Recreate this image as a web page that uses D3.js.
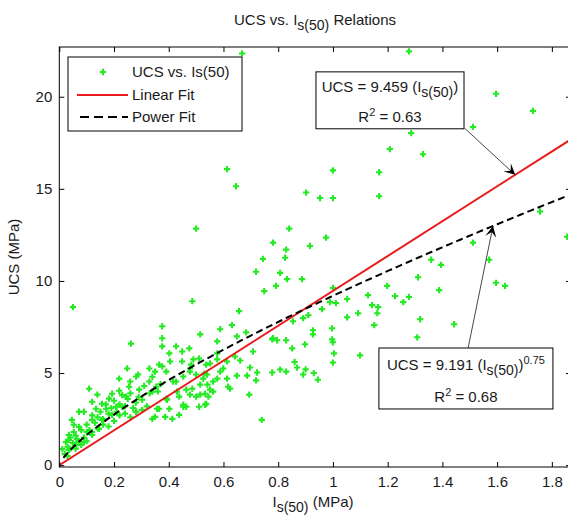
<!DOCTYPE html>
<html>
<head>
<meta charset="utf-8">
<script src="https://cdn.jsdelivr.net/npm/d3@7"></script>
<style>
body { margin: 0; background: #fff; }
text { font-family: Arial, "Liberation Sans", sans-serif; fill: #1a1a1a; }
</style>
</head>
<body>
<svg id="chart" width="568" height="516"></svg>
<script>
// measured points, Is(50) in MPa
var isValues = [
  0.668, 1.278, 1.596, 1.731, 1.512, 1.286, 1.208, 1.329, 1.0, 1.169,
  0.902, 0.953, 1.0, 1.169, 0.84, 0.975, 1.757, 1.856, 1.512, 1.359,
  1.395, 1.571, 1.311, 1.596, 1.629, 1.198, 1.388, 1.227, 1.278, 1.257,
  0.613, 0.646, 0.781, 0.916, 0.829, 0.744, 0.825, 0.719, 0.807, 0.832,
  0.887, 0.5, 0.05, 0.486, 0.657, 0.792, 0.749,
  0.376, 0.376, 0.376, 0.515, 0.588, 0.631, 0.683, 0.577, 0.661, 0.708,
  0.697, 0.686, 0.649, 0.723, 0.719, 0.694, 0.74, 0.778, 0.796, 0.829,
  0.851, 0.898, 0.778, 0.807, 0.829, 0.869, 0.891, 0.891, 0.854,
  1.0, 1.128, 1.052, 0.989, 1.011, 1.143, 1.165, 1.162, 0.96, 0.91,
  1.052, 1.092, 1.151, 1.319, 1.443, 0.927, 0.927, 0.997, 1.308, 0.997,
  1.0, 1.004, 1.0, 1.099, 0.945,
  0.262, 0.109, 0.046, 0.288, 0.259, 0.219, 0.182, 0.156, 0.134, 0.09,
  0.12, 0.072, 0.035, 0.024, 0.011, 0.035, 0.053, 0.064, 0.1, 0.156,
  0.193, 0.23, 0.193, 0.244, 0.292, 0.303, 0.329, 0.354, 0.303, 0.281,
  0.391, 0.365, 0.34, 0.391, 0.427, 0.438, 0.464, 0.482, 0.5, 0.464,
  0.533, 0.537, 0.281, 0.329, 0.255, 0.12, 0.072, 0.171, 0.208, 0.145,
  0.12, 0.09, 0.061, 0.035, 0.053, 0.139, 0.219, 0.248, 0.402, 0.427,
  0.475, 0.511, 0.537, 0.53, 0.541, 0.365, 0.34, 0.402, 0.438, 0.413,
  0.5, 0.511, 0.486,
  0.649, 0.781, 0.613, 0.624, 0.562, 0.515, 0.453, 0.477, 0.449, 0.526,
  0.551, 0.577, 0.613, 0.642, 0.588, 0.562,
  0.35, 0.376, 0.405, 0.449, 0.49, 0.478, 0.453, 0.416, 0.43, 0.394,
  0.357, 0.35, 0.387, 0.453, 0.478, 0.515, 0.54, 0.551, 0.545, 0.533,
  0.577, 0.599, 0.577, 0.617,
  0.02, 0.03, 0.04, 0.05, 0.06, 0.07, 0.08, 0.09, 0.1, 0.11,
  0.12, 0.13, 0.14, 0.15, 0.16, 0.17, 0.18, 0.19, 0.2, 0.21,
  0.22, 0.23, 0.24, 0.25, 0.26, 0.27, 0.28, 0.29, 0.31, 0.32,
  0.33, 0.34, 0.36, 0.37, 0.03, 0.04, 0.06, 0.08, 0.1, 0.12,
  0.14, 0.16, 0.18, 0.2, 0.22, 0.24, 0.26, 0.28,
  0.9, 0.93, 0.86
];
// matching UCS values in MPa
var ucsValues = [
  22.35, 22.46, 20.16, 19.23, 18.36, 18.03, 17.16, 16.88, 16.0, 15.9,
  14.8, 14.5, 14.5, 14.6, 12.84, 12.35, 13.77, 12.4, 12.08, 11.15,
  10.87, 11.15, 10.2, 9.9, 9.73, 9.73, 9.5, 9.18, 9.13, 8.85,
  16.07, 15.14, 12.08, 11.9, 11.7, 11.2, 11.26, 10.5, 10.44, 10.1,
  10.1, 12.84, 8.58, 8.9, 8.36, 9.73, 9.45,
  7.54, 6.89, 6.45, 7.1, 7.38, 7.6, 7.21, 6.72, 5.68, 6.17,
  5.3, 4.86, 4.86, 5.03, 4.6, 3.83, 2.46, 6.83, 6.78, 6.78,
  6.34, 6.56, 5.03, 5.19, 5.08, 5.3, 4.92, 7.98, 7.81,
  9.62, 9.23, 9.02, 8.85, 8.8, 8.69, 8.58, 8.25, 8.47, 8.14,
  8.03, 8.25, 7.6, 7.92, 7.65, 7.32, 7.1, 7.43, 6.94, 6.83,
  6.67, 6.07, 5.57, 5.96, 4.64,
  6.6, 4.15, 2.46, 4.92, 4.54, 4.04, 3.61, 3.33, 3.06, 2.9,
  2.46, 2.08, 1.64, 1.26, 0.87, 0.82, 1.8, 1.42, 1.8, 2.46,
  2.73, 3.17, 3.88, 3.72, 4.1, 3.55, 4.54, 4.26, 3.0, 2.9,
  3.61, 3.06, 2.51, 5.08, 4.54, 3.72, 4.1, 5.46, 4.92, 3.17,
  3.88, 3.33, 4.81, 5.25, 4.26, 3.44, 2.9, 3.06, 3.17, 1.97,
  1.64, 1.26, 1.09, 1.37, 2.19, 3.83, 4.7, 5.25, 6.07, 6.45,
  6.34, 5.79, 5.46, 4.97, 4.37, 5.46, 3.99, 3.06, 2.73, 2.51,
  3.72, 3.17, 4.15,
  6.99, 6.89, 4.7, 4.15, 3.99, 3.83, 3.28, 5.08, 5.63, 4.7,
  5.52, 6.07, 5.63, 5.9, 5.08, 4.54,
  5.08, 5.36, 5.63, 6.17, 5.74, 5.25, 4.81, 4.54, 3.99, 3.55,
  3.06, 2.62, 2.62, 3.17, 3.83, 4.37, 4.92, 4.1, 3.72, 3.28,
  4.7, 5.25, 5.74, 4.26,
  0.6, 1.0, 0.9, 1.2, 1.6, 1.3, 1.9, 1.5, 2.2, 1.9,
  2.7, 2.3, 2.6, 2.9, 2.2, 3.3, 2.8, 3.1, 3.5, 2.9,
  3.3, 3.8, 2.8, 3.6, 3.9, 3.1, 3.4, 3.7, 4.3, 3.2,
  3.9, 4.8, 4.0, 4.4, 0.5, 1.5, 0.9, 1.1, 1.3, 1.8,
  2.0, 2.5, 2.1, 2.4, 2.7, 3.2, 2.6, 2.9,
  5.2, 5.0, 5.6
];

var xTicks = [0, 0.2, 0.4, 0.6, 0.8, 1, 1.2, 1.4, 1.6, 1.8];
var yTicks = [0, 5, 10, 15, 20];
var linearCoef = [9.459];
var powerCoef = [9.191, 0.75];
var rSquared = ["0.63", "0.68"];
var legendLabels = ["UCS vs. Is(50)", "Linear Fit", "Power Fit"];

var green = "#24ea24";
var red = "#e81c1c";
var fontPx = 15;

var svg = d3.select('#chart');

var x = d3.scaleLinear().domain([0, 1.87]).range([59.3, 571]);
var y = d3.scaleLinear().domain([-0.1, 22.7]).range([467, 47]);

function linearFit(v) { return linearCoef[0] * v; }
function powerFit(v) { return powerCoef[0] * Math.pow(v, powerCoef[1]); }

svg.append('clipPath').attr('id', 'plotClip')
  .append('rect')
  .attr('x', x(0)).attr('y', y(22.7))
  .attr('width', x(1.87) - x(0)).attr('height', y(-0.1) - y(22.7));

var plot = svg.append('g').attr('clip-path', 'url(#plotClip)');

// scatter
var pts = isValues.map(function (d, i) { return [d, ucsValues[i]]; });
plot.selectAll('path.pt')
  .data(pts)
  .enter()
  .append('path')
  .attr('class', 'pt')
  .attr('d', d3.symbol().type(d3.symbolCross).size(22))
  .attr('transform', function (d) { return 'translate(' + x(d[0]) + ',' + y(d[1]) + ')'; })
  .attr('fill', green);

// fit lines
var line = d3.line()
  .x(function (d) { return x(d[0]); })
  .y(function (d) { return y(d[1]); });

plot.append('path')
  .datum([0, 1.87].map(function (v) { return [v, linearFit(v)]; }))
  .attr('d', line)
  .attr('fill', 'none')
  .attr('stroke', red)
  .attr('stroke-width', 2);

plot.append('path')
  .datum(d3.range(0.015, 1.875, 0.01).map(function (v) { return [v, powerFit(v)]; }))
  .attr('d', line)
  .attr('fill', 'none')
  .attr('stroke', '#000')
  .attr('stroke-width', 2)
  .attr('stroke-dasharray', '7,4');

// axes, ticks inward on all four sides
var fmt = d3.format('~g');
function styleAxis(g) {
  g.select('.domain').remove();
  g.selectAll('line').attr('stroke', '#000');
  g.selectAll('text').style('font-size', fontPx + 'px').attr('fill', '#1a1a1a');
}

svg.append('g')
  .attr('transform', 'translate(0,' + y(-0.1) + ')')
  .call(d3.axisBottom(x).tickValues(xTicks).tickFormat(fmt).tickSizeInner(-5).tickSizeOuter(0).tickPadding(9))
  .call(styleAxis);

svg.append('g')
  .attr('transform', 'translate(0,' + y(22.7) + ')')
  .call(d3.axisTop(x).tickValues(xTicks).tickFormat('').tickSizeInner(-5).tickSizeOuter(0))
  .call(styleAxis);

svg.append('g')
  .attr('transform', 'translate(' + x(0) + ',0)')
  .call(d3.axisLeft(y).tickValues(yTicks).tickFormat(fmt).tickSizeInner(-5).tickSizeOuter(0).tickPadding(7))
  .call(styleAxis);

svg.append('g')
  .attr('transform', 'translate(' + x(1.87) + ',0)')
  .call(d3.axisRight(y).tickValues(yTicks).tickFormat('').tickSizeInner(-5).tickSizeOuter(0))
  .call(styleAxis);

svg.append('rect')
  .attr('x', x(0)).attr('y', y(22.7))
  .attr('width', x(1.87) - x(0)).attr('height', y(-0.1) - y(22.7))
  .attr('fill', 'none')
  .attr('stroke', '#000')
  .attr('stroke-width', 1);

// text with sub / superscripts
function richText(parent, parts, px, py, anchor) {
  var t = parent.append('text')
    .attr('x', px).attr('y', py)
    .attr('text-anchor', anchor || 'start')
    .style('font-size', fontPx + 'px');
  var cur = 0;
  parts.forEach(function (p) {
    var shift = p.sub ? 5 : (p.sup ? -6 : 0);
    t.append('tspan')
      .attr('dy', shift - cur)
      .style('font-size', p.sub ? '14px' : (p.sup ? '11px' : fontPx + 'px'))
      .text(p.t);
    cur = shift;
  });
  return t;
}

// title and labels
richText(svg, [{ t: 'UCS vs. I' }, { t: 's(50)', sub: true }, { t: ' Relations' }], 315, 25, 'middle');
richText(svg, [{ t: 'I' }, { t: 's(50)', sub: true }, { t: ' (MPa)' }], 313, 507, 'middle');

svg.append('text')
  .attr('transform', 'translate(19,' + ((y(-0.1) + y(22.7)) / 2) + ') rotate(-90)')
  .attr('text-anchor', 'middle')
  .style('font-size', fontPx + 'px')
  .text('UCS (MPa)');

// legend
var leg = svg.append('g');
leg.append('rect')
  .attr('x', 68).attr('y', 57).attr('width', 174).attr('height', 74)
  .attr('fill', '#fff').attr('stroke', '#000');
var rowY = [72, 95, 117];
leg.append('path')
  .attr('d', d3.symbol().type(d3.symbolCross).size(22))
  .attr('transform', 'translate(103,' + rowY[0] + ')')
  .attr('fill', green);
leg.append('line')
  .attr('x1', 77).attr('x2', 128).attr('y1', rowY[1]).attr('y2', rowY[1])
  .attr('stroke', red).attr('stroke-width', 2);
leg.append('line')
  .attr('x1', 80).attr('x2', 128).attr('y1', rowY[2]).attr('y2', rowY[2])
  .attr('stroke', '#000').attr('stroke-width', 2).attr('stroke-dasharray', '9,5');
leg.selectAll('text.lab')
  .data(legendLabels)
  .enter()
  .append('text')
  .attr('class', 'lab')
  .attr('x', 132)
  .attr('y', function (d, i) { return rowY[i] + 5; })
  .style('font-size', fontPx + 'px')
  .text(function (d) { return d; });

// annotation boxes with arrows
function arrow(x0, y0, x1, y1) {
  svg.append('line')
    .attr('x1', x0).attr('y1', y0).attr('x2', x1).attr('y2', y1)
    .attr('stroke', '#333').attr('stroke-width', 0.9);
  var len = Math.hypot(x1 - x0, y1 - y0);
  var ux = (x1 - x0) / len, uy = (y1 - y0) / len;
  var nx = -uy, ny = ux;
  var L = 11, W = 5.5;
  var p = [
    [x1, y1],
    [x1 - ux * L + nx * W, y1 - uy * L + ny * W],
    [x1 - ux * L * 0.55, y1 - uy * L * 0.55],
    [x1 - ux * L - nx * W, y1 - uy * L - ny * W]
  ];
  svg.append('path')
    .attr('d', 'M' + p.map(function (q) { return q.join(','); }).join('L') + 'Z')
    .attr('fill', '#000');
}

var boxes = [
  { x0: 0.938, x1: 1.479, y0: 21.35, y1: 18.26,
    line1: [{ t: 'UCS = 9.459 (I' }, { t: 's(50)', sub: true }, { t: ')' }],
    r2: rSquared[0], tail: [1.482, 18.28], tip: 1.666, fit: linearFit },
  { x0: 1.168, x1: 1.804, y0: 6.36, y1: 3.05,
    line1: [{ t: 'UCS = 9.191 (I' }, { t: 's(50)', sub: true }, { t: ')' }, { t: '0.75', sup: true }],
    r2: rSquared[1], tail: [1.494, 6.36], tip: 1.585, fit: powerFit }
];

boxes.forEach(function (b) {
  svg.append('rect')
    .attr('x', x(b.x0)).attr('y', y(b.y0))
    .attr('width', x(b.x1) - x(b.x0)).attr('height', y(b.y1) - y(b.y0))
    .attr('fill', 'none').attr('stroke', '#000').attr('stroke-width', 1);
  var cx = (x(b.x0) + x(b.x1)) / 2;
  var top = y(b.y0), h = y(b.y1) - y(b.y0);
  richText(svg, b.line1, cx, top + h * 0.36, 'middle');
  richText(svg, [{ t: 'R' }, { t: '2', sup: true }, { t: ' = ' + b.r2 }], cx, top + h * 0.88, 'middle');
  arrow(x(b.tail[0]), y(b.tail[1]), x(b.tip), y(b.fit(b.tip)));
});
</script>
</body>
</html>
